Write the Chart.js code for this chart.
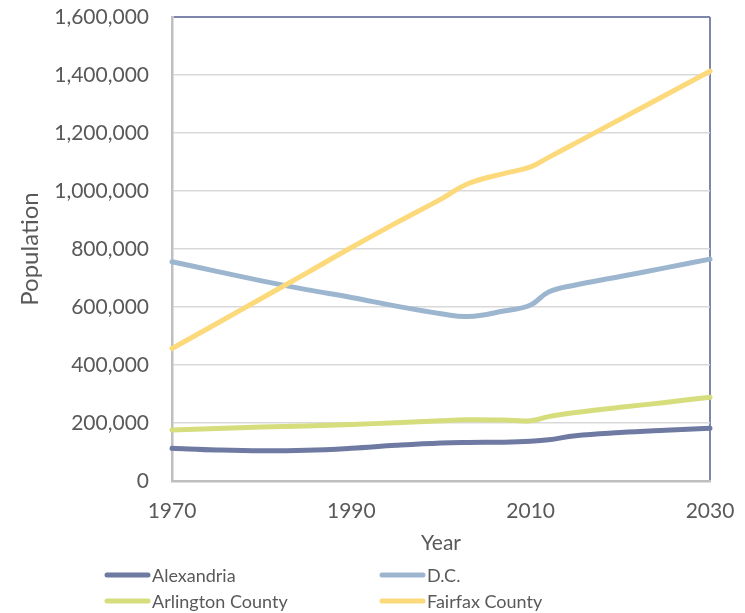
<!DOCTYPE html>
<html>
<head>
<meta charset="utf-8">
<script src="https://cdn.jsdelivr.net/npm/chart.js@4.4.0/dist/chart.umd.min.js"></script>
<style>
  html, body { margin: 0; padding: 0; background: #ffffff; }
  #wrap { width: 745px; height: 613px; position: relative; }
</style>
</head>
<body>
<div id="wrap"><canvas id="chart"></canvas></div>
<script>
// Population by year, 1970–2030 (values in persons)
const years      = [1970, 1975, 1980, 1985, 1990, 1995, 2000, 2003, 2007, 2010, 2012, 2015, 2020, 2025, 2030];
const alexandria = [113000, 107000, 104000, 106000, 113000, 123000, 131000, 133000, 134000, 137000, 142000, 156000, 167000, 175000, 182000];
const dc         = [756000, 723000, 690000, 660000, 633000, 603000, 577000, 567000, 586000, 607000, 652000, 676000, 705000, 735000, 765000];
const arlington  = [176000, 181000, 186000, 190000, 195000, 201000, 208000, 211000, 210000, 208000, 222000, 236000, 254000, 271000, 289000];
const fairfax    = [457000, 543000, 630000, 717000, 805000, 890000, 972000, 1025000, 1060000, 1083000, 1116000, 1165000, 1248000, 1330000, 1413000];

const seriesNames = ['Alexandria', 'D.C.', 'Arlington County', 'Fairfax County'];
const xTickYears  = [1970, 1990, 2010, 2030];
const yTickValues = [0, 200000, 400000, 600000, 800000, 1000000, 1200000, 1400000, 1600000];

const TEXT = '#595959';
const FONT = 'Lato';
const colors = ['#6E7AA2', '#9DB6CF', '#D5DD7C', '#FCD97B'];
const seriesValues = [alexandria, dc, arlington, fairfax];

const toPoints = vals => years.map((y, i) => ({ x: y, y: vals[i] }));

const datasets = seriesNames.map((name, i) => ({
  label: name,
  data: toPoints(seriesValues[i]),
  borderColor: colors[i],
  backgroundColor: colors[i],
  borderWidth: 5,
  pointRadius: 0,
  pointHoverRadius: 0,
  tension: 0.4,
  borderCapStyle: 'round',
  borderJoinStyle: 'round',
  order: seriesNames.length - i,
  clip: 6
}));

// Two-column legend under the axis title
const legendColumns = {
  id: 'legendColumns',
  afterDraw(chart) {
    const ctx = chart.ctx;
    const colX = [105, 380];
    const rowY = [575, 601];
    ctx.save();
    ctx.font = `18px ${FONT}`;
    ctx.textBaseline = 'middle';
    ctx.textAlign = 'left';
    chart.data.datasets.forEach((ds, i) => {
      const x = colX[i % 2];
      const y = rowY[Math.floor(i / 2)];
      ctx.strokeStyle = ds.borderColor;
      ctx.lineWidth = 5;
      ctx.lineCap = 'round';
      ctx.beginPath();
      ctx.moveTo(x + 2, y);
      ctx.lineTo(x + 43, y);
      ctx.stroke();
      ctx.fillStyle = TEXT;
      ctx.fillText(ds.label, x + 47, y + 1);
    });
    ctx.restore();
  }
};

new Chart(document.getElementById('chart'), {
  type: 'line',
  data: { datasets },
  plugins: [legendColumns],
  options: {
    responsive: true,
    maintainAspectRatio: false,
    animation: false,
    events: [],
    layout: { padding: { top: 17, right: 35, bottom: 57, left: 0 } },
    plugins: { legend: { display: false }, tooltip: { enabled: false } },
    scales: {
      x: {
        type: 'linear',
        min: xTickYears[0],
        max: xTickYears[xTickYears.length - 1],
        afterBuildTicks: s => { s.ticks = xTickYears.map(v => ({ value: v })); },
        afterFit: s => { s.height = 75; s.paddingLeft = 0; s.paddingRight = 0; },
        ticks: {
          color: TEXT,
          font: { family: FONT, size: 21 },
          padding: 18,
          maxRotation: 0,
          callback: v => String(v)
        },
        grid: {
          drawTicks: false,
          lineWidth: 2,
          color: c => (c.tick && c.tick.value === xTickYears[xTickYears.length - 1]) ? '#7D87AC' : 'rgba(0,0,0,0)'
        },
        border: { color: '#BFBFC2', width: 2.5 },
        title: {
          display: true,
          text: 'Year',
          color: TEXT,
          font: { family: FONT, size: 21 },
          padding: { top: 0, bottom: 0 }
        }
      },
      y: {
        min: 0,
        max: yTickValues[yTickValues.length - 1],
        afterBuildTicks: s => { s.ticks = yTickValues.map(v => ({ value: v })); },
        afterFit: s => { s.width = 172; s.paddingTop = 0; s.paddingBottom = 0; },
        ticks: {
          color: TEXT,
          font: { family: FONT, size: 21 },
          padding: 23,
          callback: v => Number(v).toLocaleString('en-US')
        },
        grid: {
          drawTicks: false,
          lineWidth: c => (c.tick && c.tick.value === yTickValues[yTickValues.length - 1]) ? 2 : 1.5,
          color: c => {
            if (!c.tick) return '#D9D9D9';
            if (c.tick.value === yTickValues[yTickValues.length - 1]) return '#7D87AC';
            if (c.tick.value === 0) return 'rgba(0,0,0,0)';
            return '#D9D9D9';
          }
        },
        border: { color: '#BFBFC2', width: 2.5 },
        title: {
          display: true,
          text: 'Population',
          color: TEXT,
          font: { family: FONT, size: 24 },
          padding: { top: 16, bottom: 0 }
        }
      }
    }
  }
});
</script>
</body>
</html>
